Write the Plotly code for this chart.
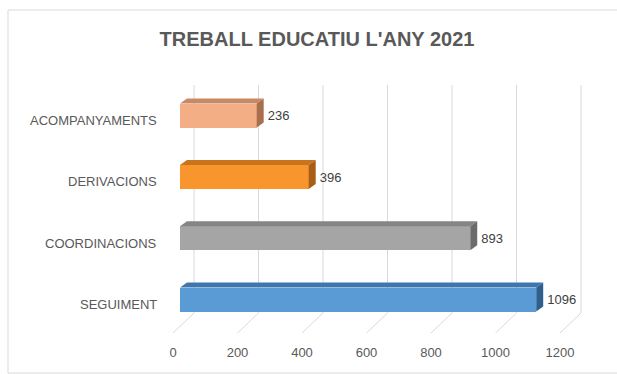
import plotly.graph_objects as go

# ---- data ----
categories = ["SEGUIMENT", "COORDINACIONS", "DERIVACIONS", "ACOMPANYAMENTS"]
values = [1096, 893, 396, 236]
front_colors = ["#5B9BD5", "#A5A5A5", "#F8952D", "#F4AE85"]
top_colors = ["#3E77B0", "#858585", "#C8741F", "#C98A63"]
side_colors = ["#2F5F8F", "#6B6B6B", "#A85E17", "#A96F4C"]
tick_values = [0, 200, 400, 600, 800, 1000, 1200]
title_text = "TREBALL EDUCATIU L'ANY 2021"

FONT = "Liberation Sans, Arial, sans-serif"
W, H = 617, 374
# plot area in pixels
PL, PR, PT, PB = 150, 607, 60, 341

# bar (front face) scale: pixel = BX0 + BS * value
BX0, BS = 180.0, 0.325
# category scale: pixel = CY0 - CS * index
CY0, CS = 299.5, 61.3
BAR_W = 24.0 / CS
# depth of the bar block (pixels)
DDX, DDY = 7.0, -5.0
# floor/wall scale for gridlines and tick labels: pixel = FX0 + FS * value
FX0, FS = 173.0, 0.3225
WALL_DX, WALL_DY = 21.0, -20.0
WALL_TOP = 85.0
FLOOR_Y = 333.0


def bx(px):
    return (px - BX0) / BS


def cy(py):
    return (CY0 - py) / CS


def fx(px):
    return (px - FX0) / FS


def paper_x(px):
    return (px - PL) / (PR - PL)


def paper_y(py):
    return (PB - py) / (PB - PT)


x_range = [bx(PL), bx(PR)]
y_range = [cy(PB), cy(PT)]
x2_range = [fx(PL), fx(PR)]

ddx_u = DDX / BS
ddy_u = -DDY / CS

fig = go.Figure()

# front faces of the bars
idx = list(range(len(categories)))
fig.add_trace(go.Bar(x=values, y=idx, orientation="h", width=BAR_W,
                     marker=dict(color=front_colors, line=dict(width=0)),
                     hoverinfo="skip", showlegend=False))

# top and side faces giving the block depth
for i, v in enumerate(values):
    y_top = i + BAR_W / 2
    y_bot = i - BAR_W / 2
    fig.add_trace(go.Scatter(
        x=[0, v, v + ddx_u, ddx_u, 0],
        y=[y_top, y_top, y_top + ddy_u, y_top + ddy_u, y_top],
        mode="lines", fill="toself", fillcolor=top_colors[i],
        line=dict(width=0), hoverinfo="skip", showlegend=False))
    fig.add_trace(go.Scatter(
        x=[v, v + ddx_u, v + ddx_u, v, v],
        y=[y_bot, y_bot + ddy_u, y_top + ddy_u, y_top, y_bot],
        mode="lines", fill="toself", fillcolor=side_colors[i],
        line=dict(width=0), hoverinfo="skip", showlegend=False))

# value labels
fig.add_trace(go.Scatter(
    x=[v + ddx_u + 4 / BS for v in values], y=[i - 1.5 / CS for i in idx],
    mode="text", text=[str(v) for v in values], textposition="middle right",
    textfont=dict(family=FONT, size=13, color="#404040"),
    hoverinfo="skip", showlegend=False))

# dummy trace so the floor axis is drawn
fig.add_trace(go.Scatter(x=[0], y=[0], xaxis="x2", yaxis="y", mode="markers",
                         marker=dict(opacity=0), hoverinfo="skip",
                         showlegend=False))

# category labels
for i, name in enumerate(categories):
    fig.add_annotation(x=paper_x(159), y=cy(CY0 - CS * i + 5.0),
                       xref="paper", yref="y", text=name, showarrow=False,
                       xanchor="right", yanchor="middle",
                       font=dict(family=FONT, size=13, color="#595959"))

# gridlines: back wall verticals joined to diagonal floor lines
wall_off = WALL_DX / FS
shapes = []
for v in tick_values:
    pts = [(v + wall_off, cy(WALL_TOP)), (v + wall_off, cy(FLOOR_Y + WALL_DY)),
           (v, cy(FLOOR_Y))]
    path = "M {} {} L {} {} L {} {}".format(*[c for p in pts for c in p])
    shapes.append(dict(type="path", xref="x2", yref="y", path=path,
                       line=dict(color="#D9D9D9", width=1), layer="below"))

# chart frame (top, left and bottom edges)
for x0, y0, x1, y1 in [(8, 10, 617, 10), (8, 10, 8, 373), (8, 373, 617, 373)]:
    shapes.append(dict(type="line", xref="paper", yref="paper",
                       x0=paper_x(x0), y0=paper_y(y0), x1=paper_x(x1), y1=paper_y(y1),
                       line=dict(color="#D9D9D9", width=1), layer="below"))

fig.update_layout(
    width=W, height=H,
    margin=dict(l=PL, r=W - PR, t=PT, b=H - PB),
    paper_bgcolor="white", plot_bgcolor="white",
    title=dict(text="<b>" + title_text + "</b>", x=317 / W, xanchor="center",
               y=1 - 39 / H, yanchor="middle",
               font=dict(family=FONT, size=20, color="#595959")),
    xaxis=dict(range=x_range, showgrid=False, zeroline=False, showticklabels=False,
               showline=False, fixedrange=True),
    xaxis2=dict(range=x2_range, overlaying="x", anchor="y", side="bottom",
                tickvals=tick_values, showgrid=False, zeroline=False,
                showline=False, ticks="", ticklabelstandoff=2, fixedrange=True,
                tickfont=dict(family=FONT, size=13, color="#595959")),
    yaxis=dict(range=y_range, showgrid=False, zeroline=False, showticklabels=False,
               showline=False, fixedrange=True),
    bargap=0,
    shapes=shapes,
)

fig.write_html("out.html")
